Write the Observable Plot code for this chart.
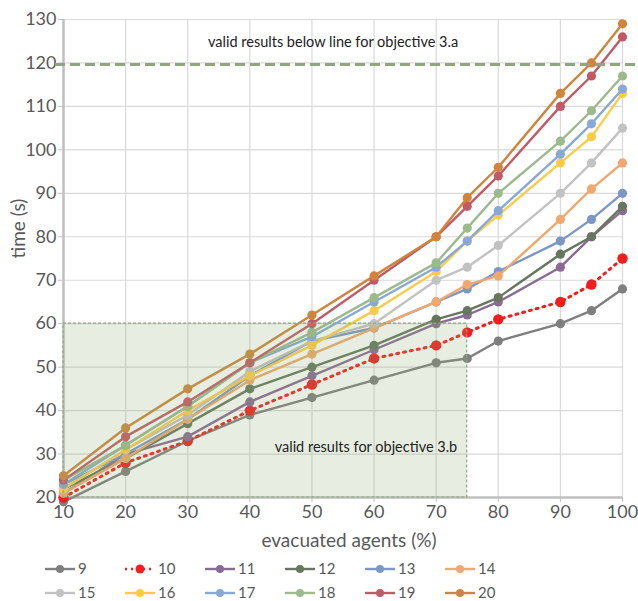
<!DOCTYPE html>
<html>
<head>
<meta charset="utf-8">
<script src="https://cdn.jsdelivr.net/npm/d3@7"></script>
<script src="https://cdn.jsdelivr.net/npm/@observablehq/plot@0.6"></script>
<style>
  body { margin: 0; background: #fff; font-family: Lato, "Open Sans", "Liberation Sans", sans-serif; }
  #wrap { position: relative; width: 638px; height: 601px; }
  #legend { position: absolute; left: 0; top: 552px; width: 638px; height: 49px; }
  .item { position: absolute; display: flex; align-items: center; font-size: 15px; color: #595959; height: 15px; line-height: 15px; white-space: nowrap; }
  .item span { line-height: 15px; }
  .item svg { margin-right: 1px; }
</style>
</head>
<body>
<div id="wrap">
  <div id="chart"></div>
  <div id="legend"></div>
</div>
<script>
const xs = [10, 20, 30, 40, 50, 60, 70, 75, 80, 90, 95, 100];
const seriesNames = ["9", "10", "11", "12", "13", "14", "15", "16", "17", "18", "19", "20"];
const seriesColors = ["#7f7f7f", "#f01e1e", "#8a6b94", "#67775f", "#7b97c7", "#f0a86e", "#c2c2c2", "#ffcb47", "#87a9d6", "#9dba8e", "#c25a66", "#d0843c"];
const s9  = [19, 26, 33, 39, 43, 47, 51, 52, 56, 60, 63, 68];
const s10 = [20, 28, 33, 40, 46, 52, 55, 58, 61, 65, 69, 75];
const s11 = [21, 30, 34, 42, 48, 54, 60, 62, 65, 73, 80, 86];
const s12 = [22, 29, 37, 45, 50, 55, 61, 63, 66, 76, 80, 87];
const s13 = [23, 30, 38, 48, 56, 59, 65, 68, 72, 79, 84, 90];
const s14 = [21, 29, 38, 47, 53, 59, 65, 69, 71, 84, 91, 97];
const s15 = [22, 31, 39, 49, 56, 60, 70, 73, 78, 90, 97, 105];
const s16 = [22, 31, 40, 48, 55, 63, 72, 79, 85, 97, 103, 113];
const s17 = [23, 32, 41, 51, 57, 65, 73, 79, 86, 99, 106, 114];
const s18 = [24, 32, 41, 51, 58, 66, 74, 82, 90, 102, 109, 117];
const s19 = [24, 34, 42, 51, 60, 70, 80, 87, 94, 110, 117, 126];
const s20 = [25, 36, 45, 53, 62, 71, 80, 89, 96, 113, 120, 129];
const allSeries = [s9, s10, s11, s12, s13, s14, s15, s16, s17, s18, s19, s20];
const xTicks = [10, 20, 30, 40, 50, 60, 70, 80, 90, 100];
const yTicks = [20, 30, 40, 50, 60, 70, 80, 90, 100, 110, 120, 130];
const limitA = 120;
const zoneB = {x1: 10, x2: 75, y1: 20, y2: 60};
const labelA = "valid results below line for objective 3.a";
const labelB = "valid results for objective 3.b";
const xTitle = "evacuated agents (%)";
const yTitle = "time (s)";

const rows = [];
allSeries.forEach((vals, i) => vals.forEach((v, j) => rows.push({series: seriesNames[i], x: xs[j], y: v, color: seriesColors[i]})));

const marks = [
  Plot.gridX(xTicks, {stroke: "#d9d9d9", strokeOpacity: 1, strokeWidth: 1.2}),
  Plot.gridY(yTicks, {stroke: "#d9d9d9", strokeOpacity: 1, strokeWidth: 1.2}),
  Plot.axisY(yTicks, {tickSize: 5, stroke: "#bfbfbf", fontSize: 18, fill: "#595959", tickPadding: 2, label: null}),
  Plot.axisX(xTicks, {tickSize: 5, stroke: "#bfbfbf", fontSize: 18, fill: "#595959", tickPadding: 3, label: null}),
  Plot.ruleX([10], {stroke: "#bfbfbf", strokeWidth: 2.5}),
  Plot.ruleY([20], {stroke: "#bfbfbf", strokeWidth: 2.5}),
  Plot.text([xTitle], {frameAnchor: "bottom", dx: 6, dy: 49, text: d => d, fontSize: 19, fill: "#595959"}),
  Plot.text([yTitle], {frameAnchor: "left", dx: -45, rotate: -90, text: d => d, fontSize: 19, fill: "#595959"}),
];
seriesNames.forEach((name, i) => {
  const data = rows.filter(r => r.series === name);
  const dotted = name === "10";
  marks.push(Plot.line(data, {x: "x", y: "y", stroke: seriesColors[i], strokeWidth: dotted ? 3 : 2.4,
    strokeDasharray: dotted ? "2,5" : null, strokeLinecap: dotted ? "round" : "butt"}));
  marks.push(Plot.dot(data, {x: "x", y: "y", fill: seriesColors[i], r: dotted ? 5.2 : 4.6, stroke: "none"}));
});
marks.push(
  Plot.rect([zoneB], {x1: "x1", x2: "x2", y1: "y1", y2: "y2", fill: "#8fb070", fillOpacity: 0.21,
    stroke: "#8fa67f", strokeWidth: 1.2, strokeDasharray: "3,2"}),
  Plot.ruleY([limitA], {stroke: "#8fa67f", strokeWidth: 3, strokeDasharray: "10,5", insetLeft: -8, insetRight: -14, dy: 1.5}),
  Plot.text([labelA], {x: 53.4, y: 124.7, text: d => d, fontSize: 14.5, fill: "#222", textAnchor: "middle"}),
  Plot.text([labelB], {x: 44.0, y: 31.5, text: d => d, fontSize: 14.5, fill: "#222", textAnchor: "start"})
);

const chart = Plot.plot({
  width: 638,
  height: 552,
  marginLeft: 63,
  marginRight: 16,
  marginTop: 19,
  marginBottom: 55,
  style: {fontFamily: "Lato, 'Open Sans', 'Liberation Sans', sans-serif", background: "#fff", overflow: "visible"},
  x: {domain: [10, 100]},
  y: {domain: [20, 130]},
  marks
});
document.getElementById("chart").appendChild(chart);

const legend = document.getElementById("legend");
seriesNames.forEach((name, i) => {
  const row = Math.floor(i / 6), col = i % 6;
  const div = document.createElement("div");
  div.className = "item";
  div.style.left = (45 + col * 80) + "px";
  div.style.top = (9 + row * 24) + "px";
  const dotted = name === "10";
  div.innerHTML = `<svg width="32" height="12"><line x1="0" x2="30" y1="6" y2="6" stroke="${seriesColors[i]}" stroke-width="${dotted ? 2.6 : 2.4}" ${dotted ? 'stroke-dasharray="2,4"' : ''}/><circle cx="15" cy="6" r="${dotted ? 4.5 : 4}" fill="${seriesColors[i]}"/></svg><span>${name}</span>`;
  legend.appendChild(div);
});
</script>
</body>
</html>
